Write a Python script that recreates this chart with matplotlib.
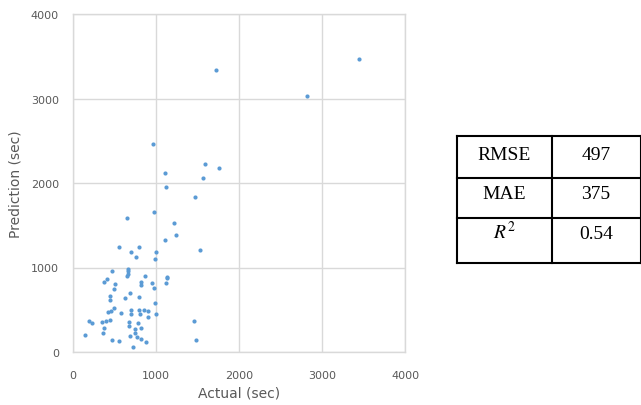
import matplotlib
matplotlib.use("Agg")
import matplotlib.pyplot as plt

actual = [1725, 3441, 2814, 962, 1593, 1105, 1756, 1569, 1126, 1469,
          974, 654, 1217, 1237, 1105, 555, 798, 706, 1006, 1525,
          766, 986, 467, 666, 666, 662, 654, 866, 411, 379,
          511, 818, 818, 954, 1138, 1138, 1126, 499, 974, 695,
          443, 443, 623, 798, 986, 499, 455, 427, 578, 706,
          798, 854, 906, 706, 810, 1006, 906, 443, 403, 355,
          191, 235, 674, 786, 674, 379, 818, 754, 367, 754,
          686, 774, 818, 878, 467, 555, 144, 722, 1456, 1480]
predicted = [3341, 3467, 3033, 2461, 2221, 2122, 2178, 2059, 1949, 1838,
             1657, 1589, 1523, 1385, 1329, 1243, 1243, 1187, 1187, 1211,
             1120, 1101, 959, 978, 955, 927, 903, 903, 864, 828,
             805, 828, 793, 817, 891, 876, 817, 742, 761, 698,
             666, 612, 643, 651, 576, 524, 481, 469, 458, 501,
             501, 501, 481, 446, 446, 446, 418, 383, 371, 359,
             371, 347, 359, 347, 304, 284, 284, 272, 229, 221,
             186, 174, 154, 118, 142, 130, 197, 56, 371, 142]

ticks = [0, 1000, 2000, 3000, 4000]
metric_names = ["RMSE", "MAE", "$R^2$"]
metric_values = ["497", "375", "0.54"]

W, H = 641, 406
fig = plt.figure(figsize=(W / 100, H / 100), dpi=100)
ax = fig.add_axes([72.7 / W, 1 - 353 / H, (405.3 - 72.7) / W, (353 - 15) / H])
ax.scatter(actual, predicted, s=9, color="#5b9bd5", linewidths=0, zorder=3)
ax.set_xlim(0, 4000)
ax.set_ylim(0, 4000)
ax.set_xticks(ticks)
ax.set_yticks(ticks)
ax.grid(True, color="#d9d9d9", linewidth=1)
for s in ax.spines.values():
    s.set_color("#d9d9d9")
    s.set_linewidth(1)
ax.tick_params(length=0, labelsize=8, labelcolor="#595959", pad=10)
ax.tick_params(axis="x", pad=13)
ax.set_xlabel("Actual (sec)", fontsize=10, color="#595959", labelpad=4)
ax.set_ylabel("Prediction (sec)", fontsize=10, color="#595959", labelpad=6)

# metrics table
tax = fig.add_axes([0, 0, 1, 1])
tax.set_xlim(0, W)
tax.set_ylim(H, 0)
tax.axis("off")
x0, xm, x1 = 457.3, 551.7, 640.5
rows_y = [137.3, 179, 219, 264.3]
baseline_off = [22.5, 20.5, 20.5]
lw = 1.5
for y in rows_y:
    tax.plot([x0, x1], [y, y], color="black", linewidth=lw, solid_capstyle="projecting")
for x in [x0, xm, x1]:
    tax.plot([x, x], [rows_y[0], rows_y[-1]], color="black", linewidth=lw, solid_capstyle="projecting")
for i, (n, v) in enumerate(zip(metric_names, metric_values)):
    yb = rows_y[i] + baseline_off[i]
    tax.text((x0 + xm) / 2, yb, n, ha="center", va="baseline", fontsize=14,
             family="Liberation Serif", math_fontfamily="stix")
    tax.text((xm + x1) / 2, yb, v, ha="center", va="baseline", fontsize=14,
             family="Liberation Serif")

fig.savefig("out.png", dpi=100)
